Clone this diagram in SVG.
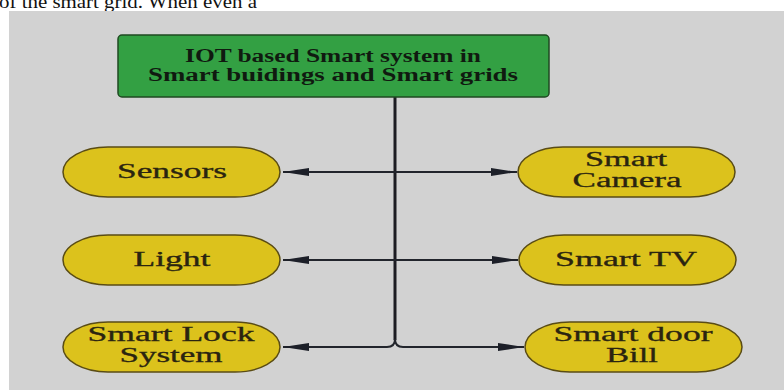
<svg xmlns="http://www.w3.org/2000/svg" width="784" height="390" viewBox="0 0 784 390">
  <defs>
    <style>
      .panel { fill: #d2d2d2; }
      .title-box { fill: #33a043; stroke: #1f4a22; stroke-width: 1.5; }
      .pill { fill: #dcc21c; stroke: #5a4c14; stroke-width: 1.5; }
      .title { font-family: "Liberation Serif", "Times New Roman", serif; font-weight: bold; font-size: 18px; fill: #101a10; }
      .label { font-family: "Liberation Serif", "Times New Roman", serif; font-size: 20px; fill: #2a2410; stroke: #2a2410; stroke-width: 0.3; }
      .page { font-family: "Liberation Serif", "Times New Roman", serif; font-size: 19px; fill: #111; }
      .trunk { fill: none; stroke: #1c1c22; stroke-width: 3; }
      .branch { fill: none; stroke: #22252c; stroke-width: 2; }
    </style>
    <marker id="arrow" viewBox="0 0 26 8" refX="26" refY="4" markerWidth="26" markerHeight="8" markerUnits="userSpaceOnUse" orient="auto-start-reverse">
      <path d="M0,0 L26,4 L0,8 Z" fill="#1c1f28"/>
    </marker>
  </defs>

  <!-- page background and clipped body text above the figure -->
  <rect x="0" y="0" width="784" height="390" fill="#ffffff"/>
  <text class="page" x="-1" y="8" textLength="258" lengthAdjust="spacingAndGlyphs">of the smart grid. When even a</text>
  <rect class="panel" x="9" y="11" width="775" height="379"/>

  <!-- connectors -->
  <g id="connectors">
    <line class="trunk" x1="395" y1="97" x2="395" y2="340"/>
    <line class="branch" x1="283" y1="172" x2="517" y2="172" marker-start="url(#arrow)" marker-end="url(#arrow)"/>
    <line class="branch" x1="283" y1="260" x2="518" y2="260" marker-start="url(#arrow)" marker-end="url(#arrow)"/>
    <path class="branch" d="M395,339 Q395,347 387,347 H283" marker-end="url(#arrow)"/>
    <path class="branch" d="M395,339 Q395,347 403,347 H524" marker-end="url(#arrow)"/>
  </g>

  <!-- root node -->
  <g id="root">
    <rect class="title-box" x="118" y="35" width="431" height="62" rx="4"/>
    <text class="title" x="333" y="62" text-anchor="middle" textLength="296" lengthAdjust="spacingAndGlyphs">IOT based Smart system in</text>
    <text class="title" x="333" y="81" text-anchor="middle" textLength="370" lengthAdjust="spacingAndGlyphs">Smart buidings and Smart grids</text>
  </g>

  <!-- left column -->
  <g id="sensors">
    <rect class="pill" x="63" y="147" width="217" height="50" rx="45" ry="25"/>
    <text class="label" x="172" y="178" text-anchor="middle" textLength="110" lengthAdjust="spacingAndGlyphs">Sensors</text>
  </g>
  <g id="light">
    <rect class="pill" x="63" y="235" width="217" height="50" rx="45" ry="25"/>
    <text class="label" x="172" y="266" text-anchor="middle" textLength="77" lengthAdjust="spacingAndGlyphs">Light</text>
  </g>
  <g id="smart-lock">
    <rect class="pill" x="63" y="322" width="217" height="50" rx="45" ry="25"/>
    <text class="label" x="171" y="341" text-anchor="middle" textLength="167" lengthAdjust="spacingAndGlyphs">Smart Lock</text>
    <text class="label" x="171" y="362" text-anchor="middle" textLength="103" lengthAdjust="spacingAndGlyphs">System</text>
  </g>

  <!-- right column -->
  <g id="smart-camera">
    <rect class="pill" x="518" y="147" width="217" height="50" rx="45" ry="25"/>
    <text class="label" x="626" y="166" text-anchor="middle" textLength="82" lengthAdjust="spacingAndGlyphs">Smart</text>
    <text class="label" x="627" y="187" text-anchor="middle" textLength="109" lengthAdjust="spacingAndGlyphs">Camera</text>
  </g>
  <g id="smart-tv">
    <rect class="pill" x="519" y="235" width="217" height="50" rx="45" ry="25"/>
    <text class="label" x="626" y="266" text-anchor="middle" textLength="142" lengthAdjust="spacingAndGlyphs">Smart TV</text>
  </g>
  <g id="smart-door-bill">
    <rect class="pill" x="525" y="322" width="217" height="50" rx="45" ry="25"/>
    <text class="label" x="633" y="341" text-anchor="middle" textLength="159" lengthAdjust="spacingAndGlyphs">Smart door</text>
    <text class="label" x="632" y="362" text-anchor="middle" textLength="52" lengthAdjust="spacingAndGlyphs">Bill</text>
  </g>
</svg>
